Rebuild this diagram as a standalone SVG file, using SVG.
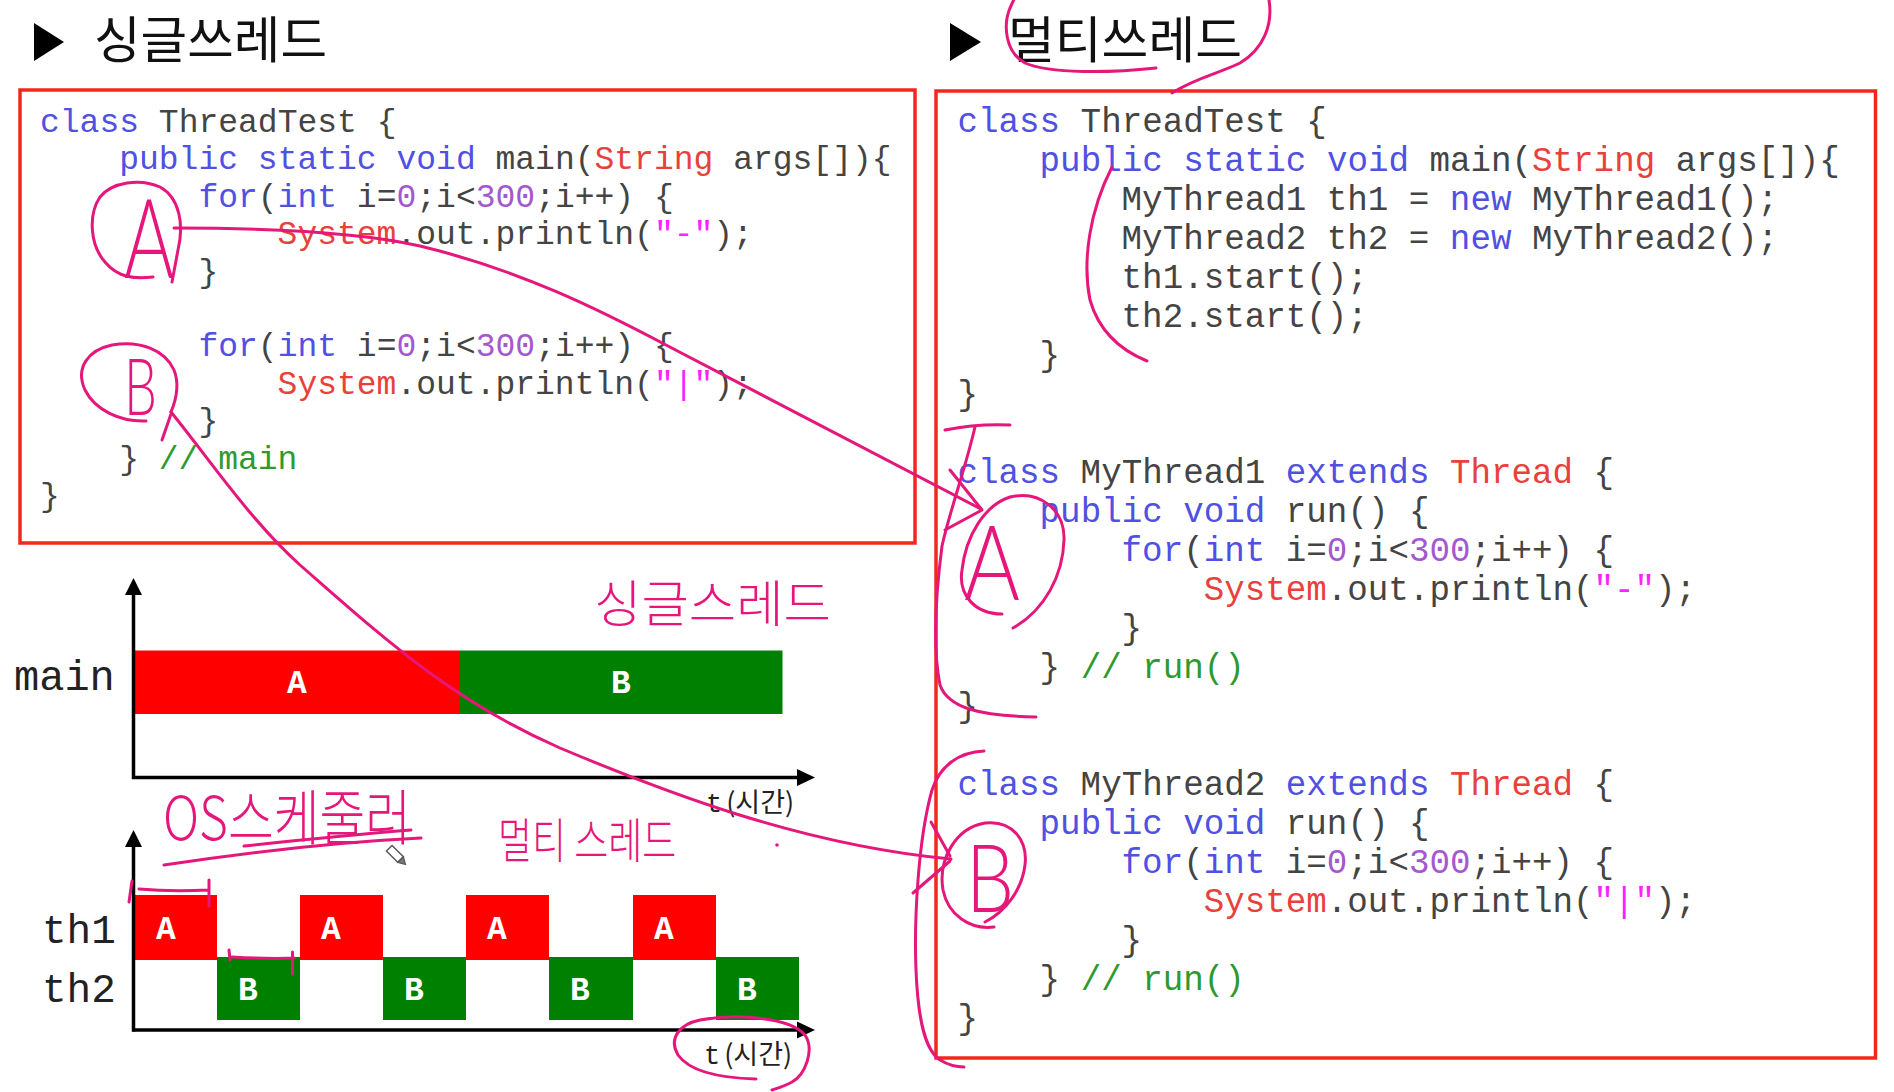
<svg xmlns="http://www.w3.org/2000/svg" width="1894" height="1092" viewBox="0 0 1894 1092">
<style>
.code{font-family:"Liberation Mono","DejaVu Sans Mono",monospace;fill:#444}
.cl{font-size:33px}
.cr{font-size:34.2px}
.k{fill:#5050e2}
.r{fill:#e8413c}
.n{fill:#a458d0}
.s{fill:#ff22ff}
.c{fill:#2e9a2e}
.title{font-family:"Noto Sans CJK KR","Noto Sans",sans-serif;font-size:50px;fill:#111}
.box{fill:none;stroke:#f0291c;stroke-width:3.5}
.axis{stroke:#000;stroke-width:3.5;fill:none}
.lbl{font-family:"Liberation Mono",monospace;fill:#222}
.blk{font-family:"Liberation Mono",monospace;font-weight:bold;font-size:33px;fill:#fff;text-anchor:middle}
.tl{font-size:27px;fill:#222}
.ink{fill:none;stroke:#e5177b;stroke-width:3;stroke-linecap:round;stroke-linejoin:round}
.hw{font-family:"Noto Sans CJK KR","Noto Sans",sans-serif;font-weight:300;fill:#e5177b}
.hl{font-family:"Lato","Noto Sans",sans-serif;font-weight:300;fill:#e5177b}
</style>
<rect width="1894" height="1092" fill="#fff"/>

<g id="title-single">
<polygon points="34,23 64,42 34,61" fill="#000"/>
<text class="title" x="94" y="58" textLength="233" lengthAdjust="spacingAndGlyphs">싱글쓰레드</text>
</g>
<g id="title-multi">
<polygon points="950,23 981,42 950,61" fill="#000"/>
<text class="title" x="1008" y="58" textLength="234" lengthAdjust="spacingAndGlyphs">멀티쓰레드</text>
</g>

<g id="code-single">
<rect class="box" x="20" y="90" width="895" height="453"/>
<text class="code cl" x="40" y="132"><tspan class="k">class</tspan> ThreadTest {</text>
<text class="code cl" x="119.2" y="169.4"><tspan class="k">public</tspan> <tspan class="k">static</tspan> <tspan class="k">void</tspan> main(<tspan class="r">String</tspan> args[]){</text>
<text class="code cl" x="198.4" y="206.8"><tspan class="k">for</tspan>(<tspan class="k">int</tspan> i=<tspan class="n">0</tspan>;i&lt;<tspan class="n">300</tspan>;i++) {</text>
<text class="code cl" x="277.6" y="244.2"><tspan class="r">System</tspan>.out.println(<tspan class="s">"-"</tspan>);</text>
<text class="code cl" x="198.4" y="281.6">}</text>
<text class="code cl" x="198.4" y="356.4"><tspan class="k">for</tspan>(<tspan class="k">int</tspan> i=<tspan class="n">0</tspan>;i&lt;<tspan class="n">300</tspan>;i++) {</text>
<text class="code cl" x="277.6" y="393.8"><tspan class="r">System</tspan>.out.println(<tspan class="s">"|"</tspan>);</text>
<text class="code cl" x="198.4" y="431.2">}</text>
<text class="code cl" x="119.2" y="468.6">} <tspan class="c">// main</tspan></text>
<text class="code cl" x="40" y="506">}</text>
</g>

<g id="code-multi">
<rect class="box" x="936" y="91" width="939.5" height="967"/>
<text class="code cr" x="957.5" y="132"><tspan class="k">class</tspan> ThreadTest {</text>
<text class="code cr" x="1039.6" y="171"><tspan class="k">public</tspan> <tspan class="k">static</tspan> <tspan class="k">void</tspan> main(<tspan class="r">String</tspan> args[]){</text>
<text class="code cr" x="1121.6" y="210">MyThread1 th1 = <tspan class="k">new</tspan> MyThread1();</text>
<text class="code cr" x="1121.6" y="249">MyThread2 th2 = <tspan class="k">new</tspan> MyThread2();</text>
<text class="code cr" x="1121.6" y="288">th1.start();</text>
<text class="code cr" x="1121.6" y="327">th2.start();</text>
<text class="code cr" x="1039.6" y="366">}</text>
<text class="code cr" x="957.5" y="405">}</text>
<text class="code cr" x="957.5" y="483"><tspan class="k">class</tspan> MyThread1 <tspan class="k">extends</tspan> <tspan class="r">Thread</tspan> {</text>
<text class="code cr" x="1039.6" y="522"><tspan class="k">public</tspan> <tspan class="k">void</tspan> run() {</text>
<text class="code cr" x="1121.6" y="561"><tspan class="k">for</tspan>(<tspan class="k">int</tspan> i=<tspan class="n">0</tspan>;i&lt;<tspan class="n">300</tspan>;i++) {</text>
<text class="code cr" x="1203.7" y="600"><tspan class="r">System</tspan>.out.println(<tspan class="s">"-"</tspan>);</text>
<text class="code cr" x="1121.6" y="639">}</text>
<text class="code cr" x="1039.6" y="678">} <tspan class="c">// run()</tspan></text>
<text class="code cr" x="957.5" y="717">}</text>
<text class="code cr" x="957.5" y="795"><tspan class="k">class</tspan> MyThread2 <tspan class="k">extends</tspan> <tspan class="r">Thread</tspan> {</text>
<text class="code cr" x="1039.6" y="834"><tspan class="k">public</tspan> <tspan class="k">void</tspan> run() {</text>
<text class="code cr" x="1121.6" y="873"><tspan class="k">for</tspan>(<tspan class="k">int</tspan> i=<tspan class="n">0</tspan>;i&lt;<tspan class="n">300</tspan>;i++) {</text>
<text class="code cr" x="1203.7" y="912"><tspan class="r">System</tspan>.out.println(<tspan class="s">"|"</tspan>);</text>
<text class="code cr" x="1121.6" y="951">}</text>
<text class="code cr" x="1039.6" y="990">} <tspan class="c">// run()</tspan></text>
<text class="code cr" x="957.5" y="1029">}</text>
</g>

<g id="chart-single">
<rect x="135" y="650.5" width="324" height="63.5" fill="#ff0000"/>
<rect x="459" y="650.5" width="323.5" height="63.5" fill="#008000"/>
<text class="blk" x="297" y="693">A</text>
<text class="blk" x="621" y="693">B</text>
<line class="axis" x1="133.5" y1="590" x2="133.5" y2="779"/>
<polygon points="133.5,578 125,595 142,595" fill="#000"/>
<line class="axis" x1="132" y1="777.5" x2="800" y2="777.5"/>
<polygon points="815,777.5 797,769 797,786" fill="#000"/>
<text class="lbl" x="14" y="690" font-size="42">main</text>
<text class="tl" x="706" y="812"><tspan font-family="Liberation Mono,monospace">t</tspan><tspan font-family="Noto Sans CJK KR,sans-serif" dx="4">(시간)</tspan></text>
</g>

<g id="chart-multi">
<rect x="135" y="895" width="82" height="65" fill="#ff0000"/>
<rect x="300" y="895" width="83" height="65" fill="#ff0000"/>
<rect x="466" y="895" width="83" height="65" fill="#ff0000"/>
<rect x="633" y="895" width="83" height="65" fill="#ff0000"/>
<rect x="217" y="957" width="83" height="63" fill="#008000"/>
<rect x="383" y="957" width="83" height="63" fill="#008000"/>
<rect x="549" y="957" width="84" height="63" fill="#008000"/>
<rect x="716" y="957" width="83" height="63" fill="#008000"/>
<text class="blk" x="166" y="939">A</text>
<text class="blk" x="331" y="939">A</text>
<text class="blk" x="497" y="939">A</text>
<text class="blk" x="664" y="939">A</text>
<text class="blk" x="248" y="1000">B</text>
<text class="blk" x="414" y="1000">B</text>
<text class="blk" x="580" y="1000">B</text>
<text class="blk" x="747" y="1000">B</text>
<line class="axis" x1="133.5" y1="842" x2="133.5" y2="1031.5"/>
<polygon points="133.5,830 125,847 142,847" fill="#000"/>
<line class="axis" x1="132" y1="1030" x2="800" y2="1030"/>
<polygon points="815,1030 797,1021.5 797,1038.5" fill="#000"/>
<text class="lbl" x="42" y="943" font-size="41">th1</text>
<text class="lbl" x="42" y="1002" font-size="41">th2</text>
<text class="tl" x="704" y="1064"><tspan font-family="Liberation Mono,monospace">t</tspan><tspan font-family="Noto Sans CJK KR,sans-serif" dx="4">(시간)</tspan></text>
</g>

<g id="connectors">
<path class="ink" d="M174,228 C260,228 360,232 420,246 C520,270 600,310 666,345 C740,384 860,446 981,509"/>
<path class="ink" d="M950,470 L982,510 L945,530"/>
<path class="ink" d="M171,412 C210,460 250,520 300,565 C380,635 450,700 560,748 C660,790 800,845 951,859"/>
<path class="ink" d="M931,822 L950,856 M913,893 L950,861"/>
</g>

<g id="annotations">
<path class="ink" d="M1156,68 C1110,73 1050,74 1025,63 C1005,52 1003,25 1010,8 L1016,-5"/>
<path class="ink" d="M1268,-5 C1275,25 1262,50 1240,63 C1220,73 1195,78 1172,93"/>
<path class="ink" d="M153,277 C135,279 118,278 105,262 C90,245 88,215 100,197 C112,182 140,178 160,187 C180,198 184,225 178,250 L172,282"/>
<text class="hl" x="124" y="278" font-size="110" textLength="50" lengthAdjust="spacingAndGlyphs">A</text>
<path class="ink" d="M146,421 C120,422 95,410 85,390 C75,368 88,350 112,345 C140,340 165,350 174,370 C180,385 176,400 171,412 M171,414 L162,440"/>
<text class="hl" x="124" y="415" font-size="78" textLength="33" lengthAdjust="spacingAndGlyphs">B</text>
<path class="ink" d="M1112,167 C1090,210 1082,260 1090,300 C1100,335 1125,352 1147,361"/>
<path class="ink" d="M945,430 C965,426 990,424 1010,425 M975,427 C965,470 950,510 942,546 C935,600 933,650 940,685 C948,708 980,716 1036,717"/>
<path class="ink" d="M1002,614 C975,614 958,595 962,570 C966,535 985,505 1010,497 C1040,490 1065,510 1064,540 C1063,575 1045,610 1013,628"/>
<text class="hl" x="964" y="600" font-size="105" textLength="56" lengthAdjust="spacingAndGlyphs">A</text>
<path class="ink" d="M984,751 C960,752 940,765 932,790 C918,840 914,920 916,970 C918,1020 925,1050 940,1060 C950,1066 958,1067 964,1067"/>
<path class="ink" d="M994,927 C970,930 948,915 943,890 C938,860 955,828 985,823 C1012,820 1028,840 1025,865 C1022,890 1005,912 985,922"/>
<text class="hl" x="966" y="912" font-size="95" textLength="48" lengthAdjust="spacingAndGlyphs">B</text>
<text class="hw" x="594" y="622" font-size="50" textLength="237" lengthAdjust="spacingAndGlyphs">싱글스레드</text>
<text class="hw" transform="translate(498,858) scale(1,1.3)" x="0" y="0" font-size="37">멀티 스레드</text>
<text class="hw" x="163" y="840" font-size="60" textLength="248" lengthAdjust="spacingAndGlyphs">OS스케줄러</text>
<path class="ink" d="M244,846 C300,840 360,834 411,830 M164,865 C250,852 340,842 421,838"/>
<path class="ink" d="M129,902 L132,881 M139,889 C160,891 190,891 209,890 M209,880 L209,906"/>
<path class="ink" d="M230,960 L229,950 M232,957 C250,958 275,959 294,958 M292.5,952 L292.5,974"/>
<path class="ink" d="M756,1079 C720,1078 690,1072 678,1055 C668,1038 680,1024 700,1020 C740,1013 790,1018 805,1035 C815,1050 805,1075 792,1082 C785,1086 778,1088 772,1090"/>
<circle cx="777" cy="845" r="1.8" fill="#e5177b"/>
<g transform="translate(397,856) rotate(-45)">
<rect x="-4" y="-11" width="8" height="16" fill="#fff" stroke="#555" stroke-width="1.4"/>
<polygon points="-4,5 4,5 0,12" fill="#777" stroke="#555" stroke-width="1.2"/>
</g>
</g>
</svg>
